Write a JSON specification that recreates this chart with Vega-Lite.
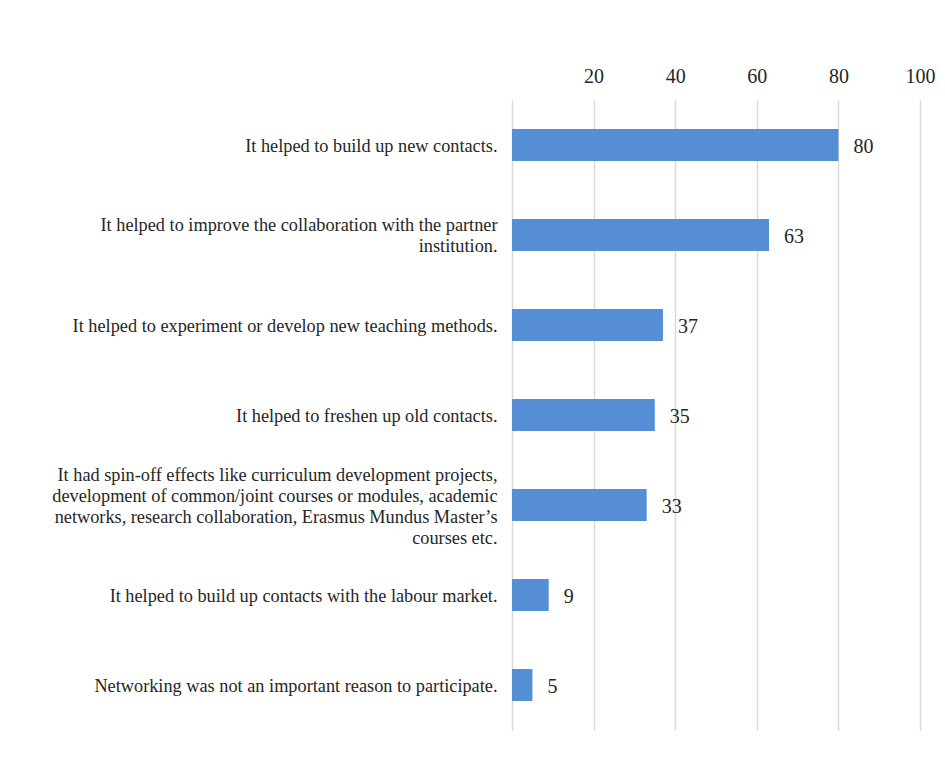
{
  "$schema": "https://vega.github.io/schema/vega-lite/v6.json",
  "autosize": {"type": "none"},
  "padding": {"left": 512, "top": 100, "right": 25, "bottom": 46},
  "width": 408,
  "height": 630,
  "background": "white",
  "config": {
    "view": {"stroke": null},
    "font": "Liberation Serif"
  },
  "data": {
    "values": [
      {"reason": "It helped to build up new contacts.", "percent": 80},
      {"reason": "It helped to improve the collaboration with the partner|institution.", "percent": 63},
      {"reason": "It helped to experiment or develop new teaching methods.", "percent": 37},
      {"reason": "It helped to freshen up old contacts.", "percent": 35},
      {"reason": "It had spin-off effects like curriculum development projects,|development of common/joint courses or modules, academic|networks, research collaboration, Erasmus Mundus Master’s|courses etc.", "percent": 33},
      {"reason": "It helped to build up contacts with the labour market.", "percent": 9},
      {"reason": "Networking was not an important reason to participate.", "percent": 5}
    ]
  },
  "encoding": {
    "y": {
      "field": "reason",
      "type": "nominal",
      "sort": null,
      "scale": {"paddingInner": 0.644, "paddingOuter": 0.322},
      "axis": {
        "title": null,
        "domain": false,
        "ticks": false,
        "labelPadding": 15,
        "labelLimit": 0,
        "labelFont": "Liberation Serif",
        "labelFontSize": 18.3,
        "labelColor": "#262626",
        "labelLineHeight": 21.3,
        "labelBaseline": "middle",
        "labelExpr": "split(datum.value, '|')",
        "labelOffset": {
          "condition": [
            {"test": "length(split(datum.value, '|')) == 4", "value": -29.5},
            {"test": "length(split(datum.value, '|')) == 2", "value": -9.5}
          ],
          "value": 1.5
        }
      }
    },
    "x": {
      "field": "percent",
      "type": "quantitative",
      "scale": {"domain": [0, 100]},
      "axis": {
        "orient": "top",
        "title": null,
        "domain": false,
        "ticks": false,
        "values": [0, 20, 40, 60, 80, 100],
        "labelExpr": "datum.value == 0 ? '' : datum.label",
        "labelFlush": false,
        "labelPadding": 14,
        "labelFont": "Liberation Serif",
        "labelFontSize": 20,
        "labelColor": "#262626",
        "gridColor": "#d9d9d9",
        "gridWidth": 1.5
      }
    }
  },
  "layer": [
    {"mark": {"type": "bar", "color": "#558ed5"}},
    {
      "mark": {"type": "text", "align": "left", "dx": 15, "dy": 2, "fontSize": 20, "font": "Liberation Serif", "color": "#262626"},
      "encoding": {"text": {"field": "percent", "type": "quantitative"}}
    }
  ]
}
